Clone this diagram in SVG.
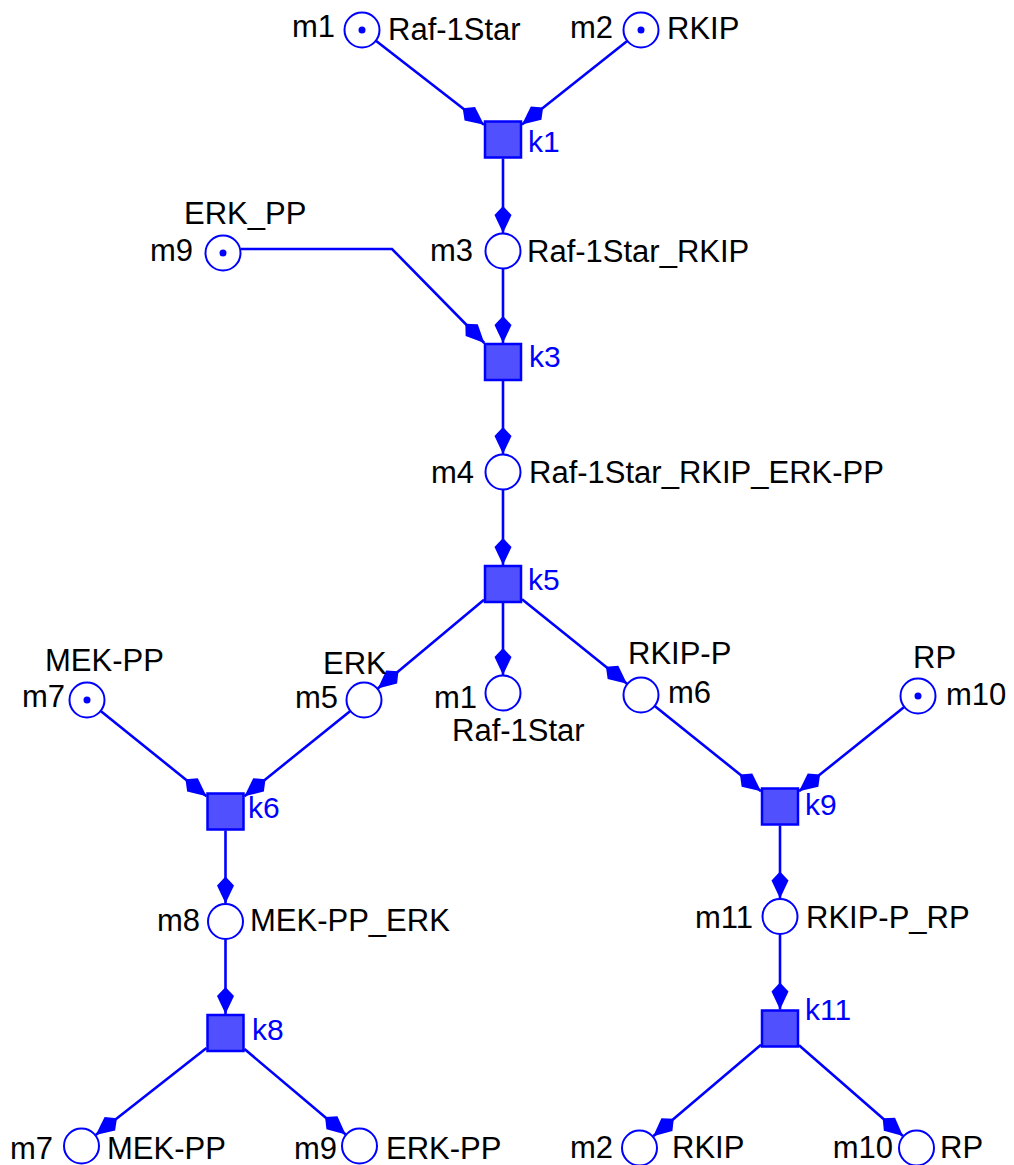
<svg xmlns="http://www.w3.org/2000/svg" width="1014" height="1165" viewBox="0 0 1014 1165">
  <style>
    .place { fill: #ffffff; stroke: #0000ff; stroke-width: 2; }
    .token { fill: #0000ff; }
    .trans { fill: #5050ff; stroke: #0000ff; stroke-width: 2.5; }
    .arc { fill: none; stroke: #0000ff; stroke-width: 2.6; marker-end: url(#head); }
    .lbl { font-family: "Liberation Sans", Arial, sans-serif; font-size: 31px; fill: #000000; }
    .end { text-anchor: end; }
    .tl { font-family: "Liberation Sans", Arial, sans-serif; font-size: 30px; fill: #0000ff; }
  </style>
  <defs>
    <marker id="head" markerUnits="userSpaceOnUse" markerWidth="32" markerHeight="20" refX="29" refY="10" orient="auto" overflow="visible">
      <path d="M2,10 L11,1.5 L29,10 L11,18.5 Z" fill="#0000ff"/>
    </marker>
  </defs>

  <rect width="1014" height="1165" fill="#ffffff"/>

  <!-- arcs -->
  <g id="arcs">
    <path class="arc" d="M376.2,41 L484,124.8"/>
    <path class="arc" d="M626.9,41.2 L522,124.4"/>
    <path class="arc" d="M503,158.5 L503,233"/>
    <path class="arc" d="M503,269 L503,343"/>
    <path class="arc" d="M241,249 L392,249 L484.3,343"/>
    <path class="arc" d="M503,381 L503,454"/>
    <path class="arc" d="M503,490 L503,565"/>
    <path class="arc" d="M484,599.8 L377.8,688.5"/>
    <path class="arc" d="M503,603 L503,675"/>
    <path class="arc" d="M522,599.3 L627,683.7"/>
    <path class="arc" d="M101,711.3 L206.5,796.2"/>
    <path class="arc" d="M350,711.3 L244.5,796.2"/>
    <path class="arc" d="M225.5,830.5 L225.5,903.5"/>
    <path class="arc" d="M225.5,939.5 L225.5,1014"/>
    <path class="arc" d="M206.5,1047.9 L95.7,1134.9"/>
    <path class="arc" d="M244.5,1049.1 L345.7,1134.4"/>
    <path class="arc" d="M655,706.3 L761,791.3"/>
    <path class="arc" d="M903.9,707.3 L799,791.3"/>
    <path class="arc" d="M780,825.5 L780,898.5"/>
    <path class="arc" d="M780,934.5 L780,1009.5"/>
    <path class="arc" d="M761,1044.7 L653.2,1136.3"/>
    <path class="arc" d="M799,1045.2 L903,1136.1"/>
  </g>

  <!-- places -->
  <g id="m1-top">
    <circle class="place" cx="362" cy="30" r="17.5"/>
    <circle class="token" cx="362" cy="30" r="3.5"/>
    <text class="lbl end" x="335" y="37">m1</text>
    <text class="lbl" x="388" y="40">Raf-1Star</text>
  </g>
  <g id="m2-top">
    <circle class="place" cx="641" cy="30" r="17.5"/>
    <circle class="token" cx="641" cy="30" r="3.5"/>
    <text class="lbl end" x="613" y="38">m2</text>
    <text class="lbl" x="667" y="39">RKIP</text>
  </g>
  <g id="m3">
    <circle class="place" cx="503" cy="251" r="17.5"/>
    <text class="lbl end" x="473" y="261">m3</text>
    <text class="lbl" x="527" y="262">Raf-1Star_RKIP</text>
  </g>
  <g id="m9-top">
    <circle class="place" cx="223" cy="253" r="17.5"/>
    <circle class="token" cx="223" cy="253" r="3.5"/>
    <text class="lbl" x="184" y="224">ERK_PP</text>
    <text class="lbl end" x="193" y="261">m9</text>
  </g>
  <g id="m4">
    <circle class="place" cx="503" cy="472" r="17.5"/>
    <text class="lbl end" x="474" y="483">m4</text>
    <text class="lbl" x="529" y="483">Raf-1Star_RKIP_ERK-PP</text>
  </g>
  <g id="m7-mid">
    <circle class="place" cx="87" cy="700" r="17.5"/>
    <circle class="token" cx="87" cy="700" r="3.5"/>
    <text class="lbl" x="45" y="671">MEK-PP</text>
    <text class="lbl end" x="65" y="707">m7</text>
  </g>
  <g id="m5">
    <circle class="place" cx="364" cy="700" r="17.5"/>
    <text class="lbl" x="323" y="674">ERK</text>
    <text class="lbl end" x="338" y="708">m5</text>
  </g>
  <g id="m1-mid">
    <circle class="place" cx="503" cy="693" r="17.5"/>
    <text class="lbl end" x="477" y="708">m1</text>
    <text class="lbl" x="452" y="741">Raf-1Star</text>
  </g>
  <g id="m6">
    <circle class="place" cx="641" cy="695" r="17.5"/>
    <text class="lbl" x="628" y="664">RKIP-P</text>
    <text class="lbl" x="668" y="703">m6</text>
  </g>
  <g id="m10-mid">
    <circle class="place" cx="918" cy="696" r="17.5"/>
    <circle class="token" cx="918" cy="696" r="3.5"/>
    <text class="lbl" x="913" y="668">RP</text>
    <text class="lbl" x="946" y="705">m10</text>
  </g>
  <g id="m8">
    <circle class="place" cx="225.5" cy="921.5" r="17.5"/>
    <text class="lbl end" x="200" y="931">m8</text>
    <text class="lbl" x="250" y="931">MEK-PP_ERK</text>
  </g>
  <g id="m11">
    <circle class="place" cx="780" cy="916.5" r="17.5"/>
    <text class="lbl end" x="753" y="928">m11</text>
    <text class="lbl" x="806" y="928">RKIP-P_RP</text>
  </g>
  <g id="m7-bottom">
    <circle class="place" cx="81.5" cy="1146" r="17.5"/>
    <text class="lbl end" x="53" y="1159">m7</text>
    <text class="lbl" x="107" y="1159">MEK-PP</text>
  </g>
  <g id="m9-bottom">
    <circle class="place" cx="359.5" cy="1146" r="17.5"/>
    <text class="lbl end" x="337" y="1159">m9</text>
    <text class="lbl" x="386" y="1159">ERK-PP</text>
  </g>
  <g id="m2-bottom">
    <circle class="place" cx="639.5" cy="1148" r="17.5"/>
    <text class="lbl end" x="613" y="1158">m2</text>
    <text class="lbl" x="672" y="1158">RKIP</text>
  </g>
  <g id="m10-bottom">
    <circle class="place" cx="916.5" cy="1148" r="17.5"/>
    <text class="lbl end" x="893" y="1158">m10</text>
    <text class="lbl" x="940" y="1158">RP</text>
  </g>

  <!-- transitions -->
  <g id="k1">
    <rect class="trans" x="485" y="121.5" width="36" height="36"/>
    <text class="tl" x="528" y="152">k1</text>
  </g>
  <g id="k3">
    <rect class="trans" x="485" y="344" width="36" height="36"/>
    <text class="tl" x="529" y="367">k3</text>
  </g>
  <g id="k5">
    <rect class="trans" x="485" y="566" width="36" height="36"/>
    <text class="tl" x="528" y="590">k5</text>
  </g>
  <g id="k6">
    <rect class="trans" x="207.5" y="793.5" width="36" height="36"/>
    <text class="tl" x="248" y="818">k6</text>
  </g>
  <g id="k8">
    <rect class="trans" x="207.5" y="1015" width="36" height="36"/>
    <text class="tl" x="252" y="1040">k8</text>
  </g>
  <g id="k9">
    <rect class="trans" x="762" y="788.5" width="36" height="36"/>
    <text class="tl" x="805" y="815">k9</text>
  </g>
  <g id="k11">
    <rect class="trans" x="762" y="1010.5" width="36" height="36"/>
    <text class="tl" x="805" y="1020">k11</text>
  </g>
</svg>
